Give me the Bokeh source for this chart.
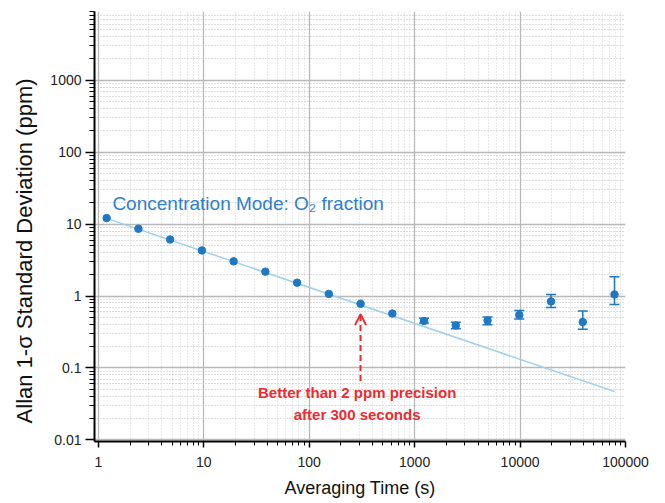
from bokeh.plotting import figure
from bokeh.models import (ColumnDataSource, Whisker, TeeHead, Arrow, OpenHead,
                          FixedTicker)
from bokeh.core.properties import value
from bokeh.embed import file_html
from bokeh.resources import INLINE

# ---- data ----
tau = [1.2, 2.4, 4.8, 9.6, 19.2, 38.4, 76.8, 153.6, 307.2, 614.4,
       1228.8, 2457.6, 4915.2, 9830.4, 19660.8, 39321.6, 78643.2]
adev = [12.1, 8.6, 6.1, 4.3, 3.03, 2.18, 1.53, 1.07, 0.78, 0.57,
        0.45, 0.39, 0.455, 0.545, 0.84, 0.435, 1.05]

err_tau = [1228.8, 2457.6, 4915.2, 9830.4, 19660.8, 39321.6, 78643.2]
err_lo = [0.42, 0.35, 0.40, 0.48, 0.69, 0.345, 0.76]
err_hi = [0.49, 0.43, 0.51, 0.63, 1.05, 0.62, 1.85]

fit_tau = [1.2, 78643.2]
fit_adev = [12.0, 0.047]

x_ticks = [1, 10, 100, 1000, 10000, 100000]
x_tick_labels = ["1", "10", "100", "1000", "10000", "100000"]
y_ticks = [0.01, 0.1, 1, 10, 100, 1000]
y_tick_labels = ["0.01", "0.1", "1", "10", "100", "1000"]

x_title = "Averaging Time (s)"
y_title = "Allan 1-\u03c3 Standard Deviation (ppm)"
title_text = "Concentration Mode: O\u2082 fraction"
note_lines = ["Better than 2 ppm precision", "after 300 seconds"]
note_tau = 285
note_y = [0.045, 0.0222]
arrow_tau = 307
arrow_from = 0.066
arrow_to = 0.56
title_tau = 1.36
title_y = 19.0

BLUE = "#1f78c4"
LIGHT = "#9fd0ee"
RED = "#ee2a2f"
FONT = "Liberation Sans"

p = figure(width=660, height=501, x_axis_type="log", y_axis_type="log",
           x_range=(0.92, 100000), y_range=(0.0095, 9000),
           output_backend="svg", toolbar_location=None,
           min_border_left=94, min_border_right=35, min_border_top=11,
           min_border_bottom=60)
p.outline_line_color = None
p.background_fill_color = "white"

x_minor = [k * 10 ** e for e in range(0, 5) for k in range(2, 10)]
y_minor = [k * 10.0 ** e for e in range(-2, 4) for k in range(2, 10)]
p.xaxis.ticker = FixedTicker(ticks=x_ticks, minor_ticks=x_minor)
p.yaxis.ticker = FixedTicker(ticks=y_ticks, minor_ticks=y_minor)
p.xaxis.major_label_overrides = {t: l for t, l in zip(x_ticks, x_tick_labels)}
p.yaxis.major_label_overrides = {t: l for t, l in zip(y_ticks, y_tick_labels)}

for ax in (p.xaxis, p.yaxis):
    ax.axis_line_color = "black"
    ax.axis_line_width = 2
    ax.major_tick_line_color = "black"
    ax.minor_tick_line_color = "black"
    ax.major_tick_line_width = 1.5
    ax.minor_tick_line_width = 1
    ax.major_tick_in = 0
    ax.minor_tick_in = 0
    ax.major_label_text_font = FONT
    ax.major_label_text_font_size = "14px"
    ax.major_label_text_color = "#222222"
    ax.axis_label_text_font = FONT
    ax.axis_label_text_font_style = "normal"
    ax.axis_label_text_color = "#111111"

p.yaxis.major_tick_out = 9
p.yaxis.minor_tick_out = 5
p.yaxis.major_label_standoff = 4
# trailing no-break spaces push the visible title a little below the frame centre
p.yaxis.axis_label = y_title + "\u00a0" * 8
p.yaxis.axis_label_text_font_size = "22px"
p.yaxis.axis_label_standoff = 10

p.xaxis.major_tick_out = 6
p.xaxis.minor_tick_out = 4
p.xaxis.major_label_standoff = 9
p.xaxis.axis_label = x_title
p.xaxis.axis_label_text_font_size = "18px"
p.xaxis.axis_label_standoff = 8

p.xgrid.grid_line_color = "#b8b8b8"
p.ygrid.grid_line_color = "#b8b8b8"
p.xgrid.grid_line_width = 1.3
p.ygrid.grid_line_width = 1.3
p.xgrid.minor_grid_line_color = "#d2d2d2"
p.ygrid.minor_grid_line_color = "#bcbcbc"
p.xgrid.minor_grid_line_dash = "1 2"
p.ygrid.minor_grid_line_dash = "1 2"
p.xgrid.minor_grid_line_width = 1
p.ygrid.minor_grid_line_width = 1

# fit line
p.line(fit_tau, fit_adev, line_color=LIGHT, line_width=1.5)

# error bars
esrc = ColumnDataSource(dict(x=err_tau, lo=err_lo, hi=err_hi))
p.add_layout(Whisker(source=esrc, base="x", lower="lo", upper="hi",
                     dimension="height", line_color=BLUE, line_width=1.5,
                     upper_head=TeeHead(size=10, line_color=BLUE, line_width=1.5),
                     lower_head=TeeHead(size=10, line_color=BLUE, line_width=1.5)))

# data points
p.scatter(tau, adev, size=7.5, fill_color=BLUE, line_color=BLUE)

# title annotation
p.text([title_tau], [title_y], text=[title_text], text_color="#2f80cc",
       text_font=value(FONT), text_font_size="19px",
       text_baseline="middle", text_align="left")

# red note
p.text([note_tau, note_tau], note_y, text=note_lines, text_color=RED,
       text_font=value(FONT), text_font_size="15px",
       text_font_style="bold", text_baseline="middle", text_align="center")

p.add_layout(Arrow(end=OpenHead(size=11, line_color=RED, line_width=2),
                   x_start=arrow_tau, y_start=arrow_from,
                   x_end=arrow_tau, y_end=arrow_to,
                   line_color=RED, line_width=2, line_dash="6 4"))

open("out.html", "w").write(file_html(p, INLINE))
